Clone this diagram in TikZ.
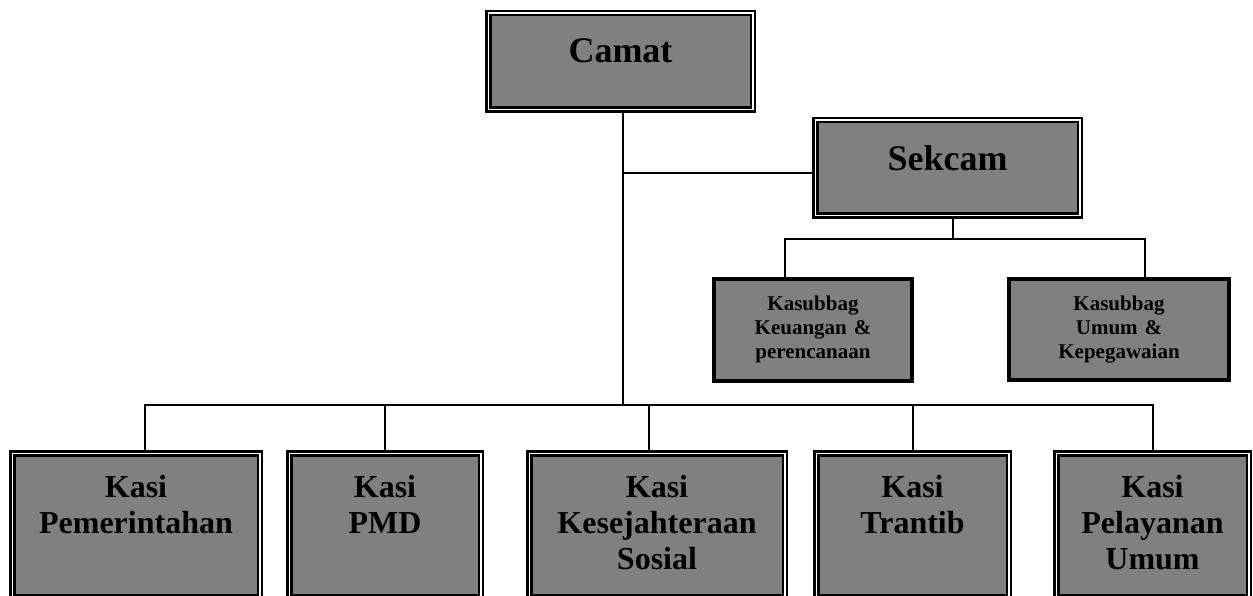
\documentclass[tikz,border=0pt]{standalone}
\usepackage{fontspec}
\setmainfont{Liberation Serif}
\definecolor{boxgray}{HTML}{808080}
\begin{document}
\begin{tikzpicture}[x=1pt,y=-1pt,
  dbox/.style={draw=black, double=white, line width=2.5pt, double distance=1.5pt,
               fill=boxgray, inner sep=0pt, align=center},
  sbox/.style={draw=black, line width=4pt, fill=boxgray, inner sep=0pt, align=center},
  big/.style={font=\bfseries\fontsize{36}{43}\selectfont},
  mid/.style={font=\bfseries\fontsize{32}{36}\selectfont},
  small/.style={font=\bfseries\fontsize{21}{24}\selectfont},
  conn/.style={draw=black, line width=2pt}]
\useasboundingbox[fill=white] (0,0) rectangle (1253,596);

% top
\node[dbox, big, text width=264.5pt, text height=49.75pt, text depth=46.75pt] (camat) at (620.5,61.5) {Camat};
\node[dbox, big, text width=264.5pt, text height=50.75pt, text depth=44.75pt] (sek) at (947.5,168) {Sekcam};

% kasubbag
\node[sbox, small, text width=198pt, text height=31pt, text depth=71pt] (keu) at (813,330) {Kasubbag\\Keuangan \&\\perencanaan};
\node[sbox, small, text width=220pt, text height=31pt, text depth=70pt] (umum) at (1119,329.5) {Kasubbag\\Umum \&\\Kepegawaian};

% bottom
\node[dbox, mid, text width=247.5pt, text height=43.75pt, text depth=99.75pt] (pem) at (136,525) {Kasi\\Pemerintahan};
\node[dbox, mid, text width=191.5pt, text height=43.75pt, text depth=99.75pt] (pmd) at (385,525) {Kasi\\PMD};
\node[dbox, mid, text width=255.5pt, text height=43.75pt, text depth=99.75pt] (kes) at (657,525) {Kasi\\Kesejahteraan\\Sosial};
\node[dbox, mid, text width=192.5pt, text height=43.75pt, text depth=99.75pt] (tra) at (912.5,525) {Kasi\\Trantib};
\node[dbox, mid, text width=192.5pt, text height=43.75pt, text depth=99.75pt] (pel) at (1152.5,525) {Kasi\\Pelayanan\\Umum};

% coordinates
\coordinate (cb) at ([xshift=2.5pt]camat.south);
\coordinate (bus) at (623,405);
\coordinate (sekj) at (623,173);
\coordinate (sb) at ([xshift=5.5pt]sek.south);
\coordinate (sbus) at (953,239);
\coordinate (keutop) at ([xshift=-28pt]keu.north);
\coordinate (umtop) at ([xshift=26pt]umum.north);
\coordinate (pemtop) at ([xshift=9pt]pem.north);
\coordinate (kestop) at ([xshift=-8pt]kes.north);
\coordinate (tratop) at ([xshift=0.5pt]tra.north);
\coordinate (peltop) at ([xshift=0.5pt]pel.north);

% connectors
\draw[conn] (cb) -- (bus);
\draw[conn] (sekj) -- (sekj -| sek.west);
\draw[conn] (sb) -- (sbus);
\draw[conn] (keutop) |- (sbus) -| (umtop);
\draw[conn] (pemtop) |- (bus) -| (peltop);
\draw[conn] (pmd.north) -- (pmd.north |- bus);
\draw[conn] (kestop) -- (kestop |- bus);
\draw[conn] (tratop) -- (tratop |- bus);
\end{tikzpicture}
\end{document}
